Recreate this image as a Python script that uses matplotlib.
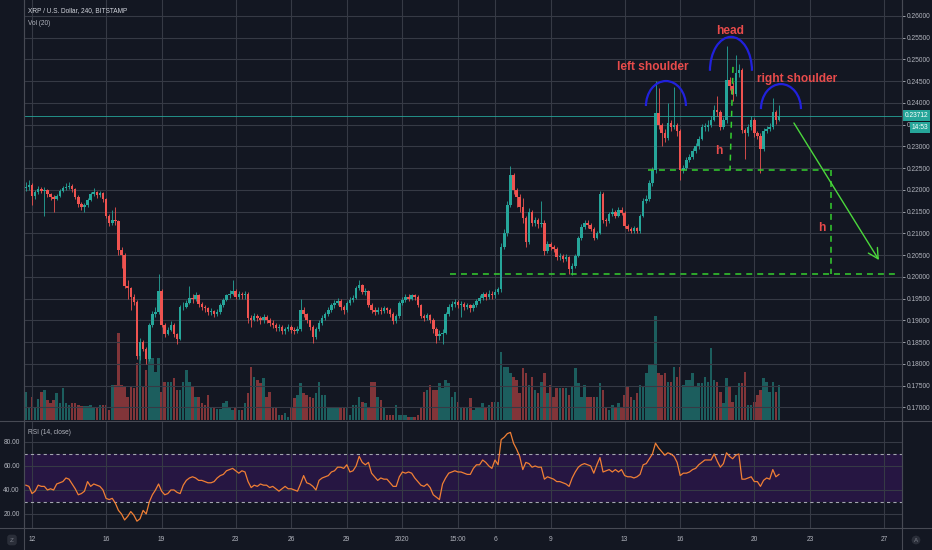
import matplotlib
matplotlib.use("Agg")
import matplotlib.pyplot as plt
import matplotlib.patches as mpatches
import matplotlib.transforms as mtransforms
from matplotlib.lines import Line2D
import numpy as np

plt.rcParams['font.family'] = ['Liberation Sans', 'DejaVu Sans']
plt.rcParams['lines.scale_dashes'] = False

# XRP / USD, 4h candles (day 0 = Dec 12 2019)
first_open = 0.2205
close = [
    .2208, .2212, .2186, .2195, .2203, .2198,  .2200, .2190, .2184, .2180, .2186, .2198,
    .2205, .2208, .2210, .2202, .2185, .2168,  .2160, .2165, .2178, .2190, .2195, .2188,
    .2192, .2180, .2140, .2125, .2132, .2128,  .2062, .2050, .1980, .1975, .1955, .1942,
    .1818, .1850, .1835, .1812, .1890, .1915,  .1920, .1968, .1890, .1870, .1878, .1890,
    .1868, .1858, .1930, .1932, .1940, .1952,  .1950, .1958, .1938, .1932, .1928, .1920,
    .1922, .1915, .1920, .1935, .1948, .1958,  .1962, .1968, .1955, .1962, .1958, .1960,
    .1905, .1900, .1910, .1905, .1900, .1908,  .1902, .1895, .1890, .1882, .1885, .1875,
    .1880, .1885, .1878, .1875, .1880, .1925,  .1915, .1900, .1885, .1862, .1880, .1895,
    .1905, .1915, .1925, .1935, .1940, .1945,  .1930, .1925, .1940, .1948, .1952, .1975,
    .1982, .1965, .1968, .1935, .1925, .1920,  .1925, .1922, .1928, .1925, .1915, .1898,
    .1910, .1940, .1948, .1955, .1950, .1958,  .1955, .1935, .1910, .1905, .1912, .1900,
    .1880, .1865, .1870, .1872, .1915, .1932,  .1938, .1942, .1935, .1938, .1932, .1935,
    .1928, .1935, .1945, .1952, .1960, .1955,  .1962, .1958, .1965, .1972, .2070, .2100,
    .2165, .2235, .2200, .2185, .2160, .2135,  .2080, .2150, .2125, .2130, .2122, .2125,
    .2060, .2075, .2070, .2065, .2045, .2048,  .2042, .2045, .2018, .2025, .2048, .2090,
    .2115, .2125, .2120, .2110, .2090, .2100,  .2190, .2130, .2128, .2145, .2150, .2140,
    .2155, .2148, .2118, .2110, .2105, .2112,  .2105, .2140, .2175, .2180, .2215, .2245,
    .2378, .2350, .2330, .2320, .2355, .2345,  .2350, .2335, .2245, .2250, .2270, .2275,
    .2290, .2300, .2318, .2345, .2345, .2350,  .2362, .2385, .2380, .2345, .2360, .2452,
    .2440, .2420, .2470, .2475, .2338, .2330,  .2345, .2360, .2330, .2325, .2295, .2335,
    .2340, .2345, .2380, .2360, .2371,
]
high = [
    .2218, .2222, .2216, .2200, .2210, .2208,  .2206, .2203, .2194, .2188, .2190, .2202,
    .2210, .2215, .2218, .2214, .2205, .2188,  .2172, .2170, .2182, .2196, .2205, .2198,
    .2198, .2195, .2182, .2145, .2155, .2160,  .2132, .2068, .2055, .1992, .1978, .1960,
    .1948, .1860, .1855, .1840, .1895, .1922,  .1930, .2008, .1972, .1895, .1885, .1898,
    .1895, .1872, .1935, .1942, .1946, .1980,  .1960, .1965, .1962, .1942, .1936, .1930,
    .1928, .1925, .1926, .1940, .1952, .1962,  .1970, .1992, .1972, .1968, .1966, .1968,
    .1965, .1912, .1918, .1915, .1910, .1915,  .1912, .1906, .1900, .1895, .1892, .1890,
    .1886, .1892, .1890, .1884, .1888, .1950,  .1930, .1918, .1902, .1890, .1885, .1900,
    .1912, .1920, .1930, .1940, .1948, .1952,  .1950, .1935, .1945, .1955, .1958, .1980,
    .1992, .1985, .1975, .1970, .1940, .1930,  .1932, .1930, .1934, .1932, .1928, .1920,
    .1915, .1945, .1955, .1960, .1960, .1962,  .1962, .1958, .1938, .1915, .1918, .1915,
    .1905, .1885, .1878, .1880, .1920, .1938,  .1945, .1950, .1948, .1944, .1942, .1940,
    .1938, .1940, .1950, .1958, .1965, .1966,  .1970, .1968, .1972, .1978, .2078, .2110,
    .2175, .2255, .2240, .2205, .2190, .2182,  .2140, .2158, .2155, .2138, .2135, .2175,
    .2130, .2082, .2080, .2074, .2070, .2055,  .2052, .2052, .2048, .2032, .2052, .2095,
    .2122, .2132, .2130, .2125, .2115, .2105,  .2198, .2195, .2135, .2150, .2158, .2155,
    .2162, .2160, .2152, .2122, .2115, .2118,  .2115, .2145, .2182, .2188, .2222, .2252,
    .2450, .2435, .2355, .2340, .2400, .2360,  .2437, .2355, .2340, .2258, .2275, .2282,
    .2296, .2308, .2325, .2352, .2355, .2360,  .2370, .2395, .2415, .2385, .2368, .2530,
    .2460, .2448, .2510, .2490, .2480, .2342,  .2352, .2370, .2365, .2335, .2330, .2342,
    .2348, .2355, .2412, .2385, .2395,
]
low = [
    .2198, .2200, .2165, .2180, .2190, .2192,  .2140, .2185, .2178, .2150, .2176, .2183,
    .2195, .2200, .2202, .2196, .2180, .2160,  .2154, .2150, .2160, .2175, .2186, .2182,
    .2184, .2172, .2135, .2118, .2120, .2120,  .2050, .2020, .1975, .1950, .1925, .1935,
    .1812, .1810, .1830, .1800, .1808, .1885,  .1908, .1915, .1885, .1862, .1866, .1875,
    .1862, .1845, .1855, .1925, .1928, .1938,  .1940, .1945, .1932, .1925, .1920, .1912,
    .1912, .1908, .1910, .1915, .1930, .1945,  .1952, .1958, .1950, .1950, .1950, .1950,
    .1895, .1885, .1898, .1898, .1892, .1895,  .1895, .1888, .1882, .1875, .1876, .1868,
    .1870, .1876, .1872, .1868, .1872, .1876,  .1908, .1895, .1878, .1848, .1858, .1875,
    .1890, .1900, .1910, .1920, .1928, .1935,  .1925, .1915, .1920, .1935, .1942, .1950,
    .1970, .1960, .1958, .1930, .1918, .1912,  .1915, .1915, .1918, .1918, .1908, .1892,
    .1895, .1905, .1935, .1942, .1944, .1946,  .1948, .1930, .1905, .1898, .1900, .1895,
    .1872, .1848, .1855, .1845, .1868, .1910,  .1925, .1930, .1928, .1908, .1925, .1926,
    .1920, .1922, .1930, .1940, .1948, .1948,  .1950, .1950, .1952, .1960, .1965, .2065,
    .2095, .2160, .2190, .2160, .2150, .2125,  .2068, .2075, .2118, .2118, .2112, .2115,
    .2050, .2055, .2062, .2058, .2040, .2040,  .2035, .2036, .2008, .2005, .2020, .2045,
    .2085, .2110, .2112, .2105, .2085, .2088,  .2098, .2125, .2118, .2125, .2140, .2135,
    .2138, .2142, .2112, .2105, .2100, .2102,  .2100, .2102, .2138, .2170, .2175, .2210,
    .2240, .2340, .2300, .2310, .2315, .2335,  .2340, .2325, .2222, .2240, .2245, .2265,
    .2272, .2285, .2295, .2315, .2335, .2335,  .2345, .2358, .2370, .2338, .2340, .2355,
    .2430, .2405, .2415, .2460, .2330, .2272,  .2325, .2338, .2322, .2318, .2240, .2290,
    .2330, .2335, .2340, .2352, .2358,
]
volume = [
    28, 13, 23, 13, 21, 28,  30, 20, 17, 20, 27, 17,  32, 17, 15, 17, 17, 15,
    14, 14, 14, 15, 13, 13,  15, 15, 15, 10, 35, 35,  87, 35, 33, 23, 33, 32,
    57, 65, 33, 50, 62, 62,  48, 62, 28, 38, 38, 38,  42, 30, 30, 38, 50, 38,
    33, 23, 23, 17, 15, 25,  12, 13, 11, 11, 17, 19,  12, 10, 12, 10, 10, 17,
    27, 53, 43, 40, 37, 42,  23, 28, 13, 13, 5, 5,    7, 3, 12, 22, 25, 37,
    27, 25, 23, 22, 27, 38,  25, 25, 13, 12, 12, 12,  12, 12, 13, 5, 15, 15,
    23, 18, 17, 12, 38, 38,  23, 20, 13, 5, 5, 5,     15, 5, 5, 5, 3, 3,
    3, 5, 13, 28, 30, 35,    30, 30, 37, 32, 40, 37,  23, 28, 18, 13, 12, 12,
    22, 10, 12, 13, 17, 13,  15, 18, 18, 18, 68, 53,  53, 47, 43, 40, 27, 52,
    47, 35, 43, 30, 27, 38,  47, 27, 35, 23, 32, 32,  32, 32, 25, 33, 52, 37,
    23, 35, 23, 23, 23, 23,  37, 30, 13, 10, 15, 13,  17, 13, 25, 33, 23, 20,
    27, 35, 33, 47, 55, 55,  104, 47, 45, 47, 38, 38, 53, 43, 53, 35, 40, 40,
    47, 33, 37, 37, 43, 38,  72, 40, 38, 28, 17, 42,  33, 18, 25, 37, 37, 48,
    15, 15, 18, 25, 30, 42,  38, 28, 38, 28, 35,
]
rsi = [
    44, 43, 37, 39, 44, 43,  43, 40, 41, 40, 45, 46,  47, 50, 49, 45, 41, 36,
    37, 39, 47, 43, 45, 44,  43, 40, 33, 32, 33, 29,  23, 20, 15, 18, 22, 19,
    14, 16, 23, 20, 30, 36,  40, 45, 39, 36, 37, 40,  40, 38, 37, 44, 48, 50,
    51, 50, 48, 48, 47, 46,  46, 47, 50, 52, 53, 56,  57, 58, 56, 54, 56, 55,
    47, 42, 44, 43, 45, 44,  44, 42, 43, 41, 39, 41,  43, 41, 41, 40, 39, 45,
    52, 46, 45, 43, 40, 48,  50, 51, 52, 55, 56, 59,  59, 58, 61, 55, 56, 60,
    68, 63, 61, 63, 54, 51,  48, 50, 49, 49, 46, 43,  43, 51, 55, 54, 55, 54,
    50, 47, 44, 43, 45, 42,  36, 34, 32, 45, 50, 54,  55, 56, 55, 55, 54, 53,
    53, 58, 61, 61, 65, 63,  60, 58, 65, 61, 82, 84,  87, 88, 79, 74, 68, 57,
    63, 62, 59, 60, 59, 59,  49, 51, 50, 49, 47, 47,  46, 45, 43, 50, 55, 59,
    61, 62, 61, 60, 54, 61,  67, 55, 56, 57, 55, 57,  55, 57, 52, 51, 51, 50,
    51, 53, 61, 62, 66, 70,  79, 75, 72, 69, 71, 70,  68, 63, 52, 54, 54, 55,
    57, 58, 61, 63, 65, 65,  65, 70, 64, 59, 62, 71,  68, 66, 69, 70, 49, 49,
    50, 51, 47, 47, 43, 48,  50, 49, 57, 51, 53,
]
last_price = 0.23712

start_day = -1 / 3          # first candle: Dec 11, 16:00
tick_days = [0, 4, 7, 11, 14, 17, 20, 23, 25, 28, 32, 35, 39, 42, 46]
tick_labels = ['12', '16', '19', '23', '26', '29', '2020', '15:00',
               '6', '9', '13', '16', '20', '23', '27']

# head & shoulders drawing, in (day, price)
neck_days, neck_price = [33.26, 43.14], 0.2246
target_days, target_price = [22.57, 46.76], 0.2007
drop_day = 43.14
head_line_days, head_line_prices = [37.85, 37.69], [0.2483, 0.2246]
arrow_start, arrow_end = (41.14, 0.2354), (45.73, 0.2039)
arcs = [(34.23, 0.2393, 2.16, 0.0115), (37.74, 0.2474, 2.27, 0.0156),
        (40.44, 0.2386, 2.16, 0.0115)]
labels = [('left shoulder', 33.53, 0.2483), ('head', 37.69, 0.2566),
          ('right shoulder', 41.31, 0.2455)]
h_marks = [(37.10, 0.2290), (42.66, 0.2113)]

bg = '#131722'
grid_c = '#363a45'
sep_c = '#474a54'
txt_c = '#b2b5be'
up_c, down_c = '#26a69a', '#ef5350'
dash_green = '#35cf2f'
red_txt = '#e84b4b'

close = np.array(close)
high = np.array(high)
low = np.array(low)
opn = np.concatenate([[first_open], close[:-1]])
days = start_day + np.arange(len(close)) / 6
up = close >= opn
colors = np.where(up, up_c, down_c)

W, H = 932, 550
fig = plt.figure(figsize=(W / 100, H / 100), dpi=100, facecolor=bg)
ax = fig.add_axes([24 / W, 1 - 420 / H, 878 / W, 420 / H])
ax_vol = ax.twinx()
ax_rsi = fig.add_axes([24 / W, 1 - 528 / H, 878 / W, 107 / H])

ax.set_zorder(ax_vol.get_zorder() + 1)
ax.patch.set_visible(False)
ax_vol.patch.set_visible(True)
ax_vol.patch.set_facecolor(bg)
ax_rsi.set_facecolor(bg)

xlim = (-0.432, 46.976)
ax.set_xlim(*xlim)
ax_rsi.set_xlim(*xlim)
ax.set_ylim(0.167124, 0.263678)

# volume
ax_vol.bar(days, volume, width=0.135, color=colors, alpha=0.5, lw=0)
ax_vol.set_ylim(0, 420)
ax_vol.set_yticks([])
for s in ax_vol.spines.values():
    s.set_visible(False)

# candles
ax.vlines(days, low, high, colors=colors, lw=0.6, zorder=3)
ax.bar(days, np.maximum(np.abs(close - opn), 0.00012), bottom=np.minimum(opn, close),
       width=0.135, color=colors, lw=0, zorder=4)

ax.axhline(last_price, color=up_c, lw=0.7, alpha=0.85, zorder=2)

# grid / axes
price_ticks = np.arange(0.170, 0.2601, 0.005)
ax.set_yticks(price_ticks)
ax.set_yticklabels(['%.5f' % p for p in price_ticks])
ax.yaxis.tick_right()
ax.set_xticks(tick_days)
ax.tick_params(axis='x', length=0, labelbottom=False)
ax.tick_params(axis='y', colors=txt_c, labelsize=4.8, length=2.2, width=0.6, pad=1.2)
ax.grid(True, color=grid_c, lw=0.8, zorder=0)
for name, s in ax.spines.items():
    s.set_visible(name in ('left', 'right'))
    s.set_color(sep_c)

# price labels on the scale
blend = mtransforms.blended_transform_factory(ax.transAxes, ax.transData)
ax.text(1.003, last_price, '%.5f' % last_price, transform=blend, ha='left', va='center',
        color='white', fontsize=4.8, zorder=10, clip_on=False,
        bbox=dict(boxstyle='square,pad=0.3', fc=up_c, ec='none'))
ax.annotate('14:53', xy=(1.0, last_price), xycoords=blend, xytext=(7, -8.5),
            textcoords='offset points', ha='left', va='center', color='white',
            fontsize=4.8, zorder=10, annotation_clip=False,
            bbox=dict(boxstyle='square,pad=0.3', fc=up_c, ec='none'))

ax.text(0.005, 0.974, 'XRP / U.S. Dollar, 240, BITSTAMP', transform=ax.transAxes,
        color='#d1d4dc', fontsize=4.7, va='center', ha='left')
ax.text(0.005, 0.945, 'Vol (20)', transform=ax.transAxes,
        color='#b2b5be', fontsize=4.7, va='center', ha='left')

# head & shoulders annotations
dash = (0, (4.3, 3.6))
ax.plot(neck_days, [neck_price] * 2, color=dash_green, lw=1.1, ls=dash, zorder=6)
ax.plot(target_days, [target_price] * 2, color=dash_green, lw=1.1, ls=dash, zorder=6)
ax.plot([drop_day] * 2, [neck_price, target_price], color=dash_green, lw=1.1, ls=dash, zorder=6)
ax.plot(head_line_days, head_line_prices, color=dash_green, lw=1.1, ls=dash, zorder=6)
ax.annotate('', xy=arrow_end, xytext=arrow_start,
            arrowprops=dict(arrowstyle='->,head_length=0.6,head_width=0.32',
                            color='#4bd83c', lw=1.0, mutation_scale=12,
                            shrinkA=0, shrinkB=0), zorder=6)
for cx, cy, w, h in arcs:
    ax.add_patch(mpatches.Arc((cx, cy), w, h, theta1=0, theta2=180,
                              color='#2121dc', lw=1.6, zorder=7))
for s, x, y in labels:
    ax.text(x, y, s, color=red_txt, fontsize=8.6, fontweight='bold',
            ha='center', va='center', zorder=8)
for x, y in h_marks:
    ax.text(x, y, 'h', color=red_txt, fontsize=8.6, fontweight='bold',
            ha='center', va='center', zorder=8)

# RSI pane
ax_rsi.set_ylim(8.3, 97.5)
ax_rsi.axhspan(30, 70, color='#9915ff', alpha=0.15, lw=0, zorder=0.6)
for lvl in (70, 30):
    ax_rsi.axhline(lvl, color='#a3a6af', lw=0.8, ls=(0, (2.3, 2.3)), zorder=2)
ax_rsi.plot(days, rsi, color='#f07f35', lw=0.9, zorder=3)
ax_rsi.set_yticks([20, 40, 60, 80])
ax_rsi.set_yticklabels(['20.00', '40.00', '60.00', '80.00'])
ax_rsi.set_xticks(tick_days)
ax_rsi.set_xticklabels(tick_labels)
ax_rsi.tick_params(axis='y', colors=txt_c, labelsize=4.8, length=0, pad=3)
ax_rsi.tick_params(axis='x', colors=txt_c, labelsize=4.8, length=0, pad=6)
ax_rsi.grid(True, color=grid_c, lw=0.8, zorder=0)
for name, s in ax_rsi.spines.items():
    s.set_visible(name in ('left', 'right'))
    s.set_color(sep_c)
ax_rsi.text(0.005, 0.888, 'RSI (14, close)', transform=ax_rsi.transAxes,
            color='#b2b5be', fontsize=4.7, va='center', ha='left')

# pane separators
for yy in (420.5, 528):
    fig.add_artist(Line2D([0, 1], [1 - yy / H] * 2, transform=fig.transFigure,
                          color=sep_c, lw=0.8))
for xx in (24, 902):
    fig.add_artist(Line2D([xx / W] * 2, [0, 1], transform=fig.transFigure,
                          color=sep_c, lw=0.8))

fig.text(12 / W, 1 - 540 / H, 'Z', color='#787b86', fontsize=4.5, ha='center', va='center',
         bbox=dict(boxstyle='round,pad=0.45', fc='#2a2e39', ec='none'))
fig.text(916 / W, 1 - 540 / H, 'A', color='#787b86', fontsize=4.5, ha='center', va='center',
         bbox=dict(boxstyle='circle,pad=0.3', fc='#2a2e39', ec='none'))

fig.savefig('out.png', dpi=100, facecolor=bg)
